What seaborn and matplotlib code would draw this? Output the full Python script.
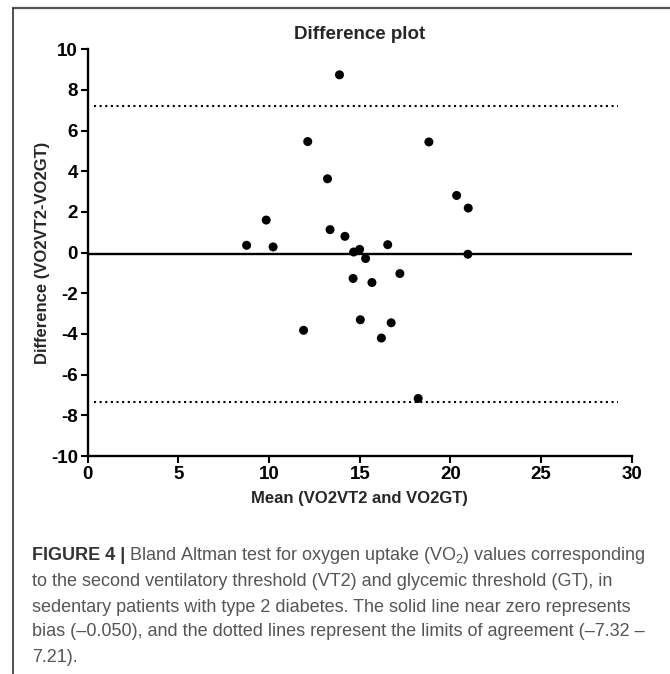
import numpy as np
import pandas as pd
import matplotlib
matplotlib.use("Agg")
import matplotlib.pyplot as plt
from matplotlib.lines import Line2D
import seaborn as sns

# ---- data ----
mean_vals = [13.88, 12.13, 18.81, 13.22, 20.34, 20.98, 9.84, 13.36, 14.18, 8.76,
             10.22, 16.54, 14.99, 14.66, 15.32, 20.96, 14.63, 15.67, 17.21, 15.03,
             16.73, 11.90, 16.19, 18.22]
diff_vals = [8.74, 5.46, 5.44, 3.63, 2.81, 2.19, 1.60, 1.13, 0.80, 0.36,
             0.28, 0.39, 0.16, 0.03, -0.29, -0.08, -1.27, -1.47, -1.03, -3.30,
             -3.45, -3.82, -4.20, -7.17]
bias = -0.050
loa_low, loa_high = -7.32, 7.21
x_ticks = [0, 5, 10, 15, 20, 25, 30]
y_ticks = [-10, -8, -6, -4, -2, 0, 2, 4, 6, 8, 10]

df = pd.DataFrame({"mean": mean_vals, "diff": diff_vals})

sns.set_style("ticks")
plt.rcParams['font.family'] = ['Liberation Sans', 'DejaVu Sans']
plt.rcParams['mathtext.default'] = 'regular'
plt.rcParams['axes.unicode_minus'] = False

fig = plt.figure(figsize=(6.70, 6.74), dpi=100)
ax = fig.add_axes([0.131, 0.3234, 0.812, 0.6036])

sns.scatterplot(data=df, x="mean", y="diff", ax=ax, color="black",
                s=42, edgecolor="none", zorder=3)
ax.axhline(bias, color="black", lw=1.7, zorder=2)
ax.axhline(loa_high, xmin=0.012, xmax=0.975, color="black", lw=1.5, ls=(0, (1, 1.7)))
ax.axhline(loa_low, xmin=0.012, xmax=0.975, color="black", lw=1.5, ls=(0, (1, 1.7)))

ax.set_xlim(0, 30)
ax.set_ylim(-10, 10)
ax.set_xticks(x_ticks)
ax.set_yticks(y_ticks)
for sp in ["top", "right"]:
    ax.spines[sp].set_visible(False)
for sp in ["left", "bottom"]:
    ax.spines[sp].set_linewidth(1.7)
    ax.spines[sp].set_color("black")
ax.tick_params(axis="both", width=1.5, length=5, labelsize=13.5, colors="black", pad=2)
for lab in ax.get_xticklabels() + ax.get_yticklabels():
    lab.set_fontweight("bold")

ax.set_title("Difference plot", fontsize=13.5, fontweight="bold", pad=7)
ax.set_xlabel("Mean (VO2VT2 and VO2GT)", fontsize=12, fontweight="bold", labelpad=6)
ax.set_ylabel("Difference (VO2VT2-VO2GT)", fontsize=12, fontweight="bold", labelpad=1)

# frame lines (top and left)
fig.add_artist(Line2D([13/670, 1.0], [1 - 8/674, 1 - 8/674], color="#555555", lw=1.6))
fig.add_artist(Line2D([13/670, 13/670], [1 - 8/674, 0.0], color="#333333", lw=1.2))

# caption
cap_font = ['Liberation Sans', 'DejaVu Sans']
x0 = 32/670
ys = [556, 581, 607, 632, 658]
fs = 13
t = fig.text(x0, 1 - ys[0]/674, "FIGURE 4 |", fontsize=fs, fontweight="bold",
             color="#333333", family=cap_font, va="center")
fig.canvas.draw()
bb = t.get_window_extent()
fig.text((bb.x1 + 4)/670, 1 - ys[0]/674,
         "Bland Altman test for oxygen uptake (VO$_2$) values corresponding",
         fontsize=fs, color="#555555", family=cap_font, va="center")
lines = [
    "to the second ventilatory threshold (VT2) and glycemic threshold (GT), in",
    "sedentary patients with type 2 diabetes. The solid line near zero represents",
    "bias (\u20130.050), and the dotted lines represent the limits of agreement (\u20137.32 \u2013",
    "7.21).",
]
for y, s in zip(ys[1:], lines):
    fig.text(x0, 1 - y/674, s, fontsize=fs, color="#555555", family=cap_font, va="center")

fig.savefig("out.png", dpi=100)
